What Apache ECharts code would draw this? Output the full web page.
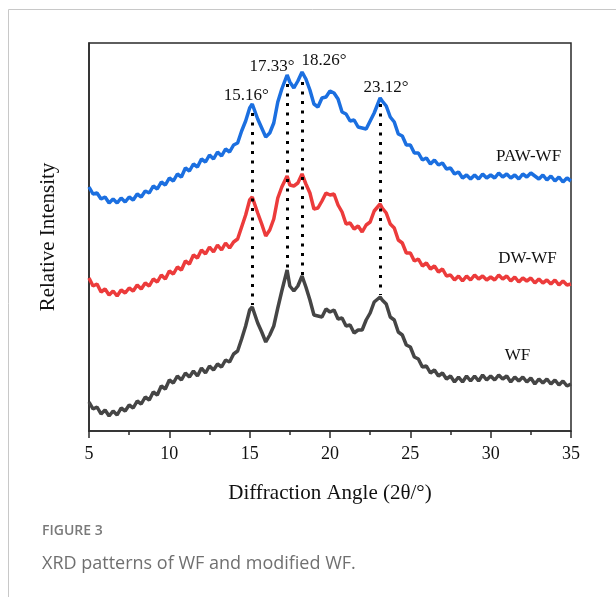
<!DOCTYPE html>
<html>
<head>
<meta charset="utf-8">
<script src="https://cdn.jsdelivr.net/npm/echarts@6/dist/echarts.min.js"></script>
<style>
html,body{margin:0;padding:0;background:#fff;}
#chart{width:616px;height:597px;}
</style>
</head>
<body>
<div id="chart"></div>
<script>
// Diffraction angle (2θ, degrees) shared by all three patterns
const angles = [
  5.00,5.25,5.50,5.75,6.00,6.25,6.50,6.75,7.00,7.25,
  7.50,7.75,8.00,8.25,8.50,8.75,9.00,9.25,9.50,9.75,
  10.00,10.25,10.50,10.75,11.00,11.25,11.50,11.75,12.00,12.25,
  12.50,12.75,13.00,13.25,13.50,13.75,14.00,14.25,14.50,14.75,
  15.00,15.16,15.50,15.75,16.00,16.25,16.50,16.75,17.00,17.33,
  17.50,17.75,18.00,18.26,18.50,18.75,19.00,19.25,19.50,19.75,
  20.00,20.25,20.50,20.75,21.00,21.25,21.50,21.75,22.00,22.25,
  22.50,22.75,23.12,23.25,23.50,23.75,24.00,24.25,24.50,24.75,
  25.00,25.25,25.50,25.75,26.00,26.25,26.50,26.75,27.00,27.25,
  27.50,27.75,28.00,28.25,28.50,28.75,29.00,29.25,29.50,29.75,
  30.00,30.25,30.50,30.75,31.00,31.25,31.50,31.75,32.00,32.25,
  32.50,32.75,33.00,33.25,33.50,33.75,34.00,34.25,34.50,34.75,
  35.00
];

// Relative intensity (a.u., stacked offsets as plotted)
const pawWF = [
  244,237,238,232,234,228,232,228,233,229,
  234,231,237,234,240,238,245,242,249,246,
  253,250,257,254,263,260,267,264,272,269,
  276,272,279,275,282,279,286,288,300,310,
  323,327,312,303,294,298,308,329,342,356,
  349,343,350,359,352,341,327,324,333,334,
  340,338,332,319,317,310,311,304,303,302,
  310,318,333,330,325,314,309,297,295,286,
  286,278,278,271,273,267,271,266,268,262,
  263,257,259,253,256,252,256,252,257,253,
  256,253,258,254,257,253,256,252,257,254,
  258,255,252,256,251,255,250,254,249,253,
  250
];
const dwWF = [
  153,145,147,139,142,136,140,135,141,138,
  143,140,146,142,148,145,152,149,156,152,
  160,157,164,161,170,167,176,173,181,177,
  184,179,186,181,188,183,189,192,204,216,
  231,234,218,207,195,201,212,233,244,255,
  246,245,248,257,247,238,222,223,230,238,
  236,237,226,219,207,208,202,205,199,206,
  209,220,227,223,218,207,203,191,188,178,
  178,170,172,165,168,162,165,159,162,155,
  156,151,155,150,155,151,156,152,155,151,
  154,151,156,152,155,150,154,149,153,150,
  153,148,152,148,151,147,151,146,150,146,
  147
];
const wf = [
  29,22,24,17,21,15,20,16,23,20,
  26,23,30,27,34,31,39,36,45,42,
  51,48,55,51,58,54,60,55,63,58,
  65,61,67,64,71,69,77,80,92,105,
  121,124,108,99,89,96,105,123,140,161,
  145,140,145,155,144,131,116,115,114,122,
  119,121,112,113,105,106,98,101,101,111,
  118,129,134,131,127,114,111,99,96,86,
  84,74,72,64,65,58,61,55,58,52,
  55,49,54,49,55,50,55,50,56,51,
  55,51,56,52,55,49,54,50,54,49,
  53,47,52,48,52,47,51,46,50,45,
  47
];

const seriesNames = ['PAW-WF', 'DW-WF', 'WF'];

// Characteristic peaks
const peakAngles = [15.16, 17.33, 18.26, 23.12];
const peakLabels = ['15.16°', '17.33°', '18.26°', '23.12°'];
const peakTopIntensity = [327, 356, 359, 333];     // PAW-WF peak heights
const guideTop = [318, 347, 349, 327];             // dotted guide: upper end
const guideBottom = [126, 159, 153, 136];          // dotted guide: lower end

const xTicks = [5, 10, 15, 20, 25, 30, 35];

const serif = "'Liberation Serif','Times New Roman',serif";
const pair = (ys) => angles.map((a, i) => [a, ys[i]]);

const chart = echarts.init(document.getElementById('chart'), null, {renderer: 'canvas'});

const peakOffsets = [[-6, -8], [-15, -8], [22, -11], [6, -10]];

const option = {
  animation: false,
  backgroundColor: '#ffffff',
  grid: {
    left: 89, right: 45, top: 43, bottom: 166,
    show: true, borderColor: '#2a2a2a', borderWidth: 1.5, backgroundColor: 'transparent'
  },
  xAxis: {
    type: 'value',
    min: xTicks[0], max: xTicks[xTicks.length - 1], interval: 5,
    axisLine: {show: true, lineStyle: {color: '#2a2a2a', width: 1.5}},
    axisTick: {show: true, inside: false, length: 7, lineStyle: {color: '#2a2a2a', width: 1.5}},
    minorTick: {show: true, splitNumber: 2, length: 4, lineStyle: {color: '#2a2a2a', width: 1.5}},
    splitLine: {show: false},
    axisLabel: {color: '#111', fontFamily: serif, fontSize: 18, margin: 14},
    name: 'Diffraction Angle (2θ/°)',
    nameLocation: 'middle', nameGap: 52,
    nameTextStyle: {color: '#111', fontFamily: serif, fontSize: 21}
  },
  yAxis: {
    type: 'value', min: 0, max: 388,
    axisLine: {show: true, lineStyle: {color: '#2a2a2a', width: 1.5}},
    axisTick: {show: false},
    axisLabel: {show: false},
    splitLine: {show: false},
    name: 'Relative Intensity',
    nameLocation: 'middle', nameGap: 30, nameRotate: 90,
    nameTextStyle: {color: '#111', fontFamily: serif, fontSize: 21}
  },
  series: [
    {
      name: seriesNames[0], type: 'line', showSymbol: false, symbol: 'none',
      data: pair(pawWF), z: 3,
      lineStyle: {color: '#1b6fe0', width: 3.5},
      markPoint: {
        symbol: 'circle', symbolSize: 0, silent: true,
        data: peakAngles.map((p, i) => ({
          coord: [p, peakTopIntensity[i]],
          label: {show: true, formatter: peakLabels[i], offset: peakOffsets[i],
                  color: '#111', fontFamily: serif, fontSize: 17}
        })).concat([{
          coord: [32.36, 274],
          label: {show: true, formatter: seriesNames[0], color: '#111', fontFamily: serif, fontSize: 17}
        }])
      }
    },
    {
      name: seriesNames[1], type: 'line', showSymbol: false, symbol: 'none',
      data: pair(dwWF), z: 3,
      lineStyle: {color: '#ec3b3b', width: 3.5},
      markPoint: {
        symbol: 'circle', symbolSize: 0, silent: true,
        data: [{
          coord: [32.29, 172],
          label: {show: true, formatter: seriesNames[1], color: '#111', fontFamily: serif, fontSize: 17}
        }]
      }
    },
    {
      name: seriesNames[2], type: 'line', showSymbol: false, symbol: 'none',
      data: pair(wf), z: 3,
      lineStyle: {color: '#454545', width: 3.5},
      markPoint: {
        symbol: 'circle', symbolSize: 0, silent: true,
        data: [{
          coord: [31.67, 75],
          label: {show: true, formatter: seriesNames[2], color: '#111', fontFamily: serif, fontSize: 17}
        }]
      },
      markLine: {
        silent: true, symbol: 'none', z: 5,
        label: {show: false},
        lineStyle: {color: '#000', width: 3, type: [3, 6.5]},
        data: peakAngles.map((p, i) => [
          {coord: [p, guideTop[i]]},
          {coord: [p, guideBottom[i]]}
        ])
      }
    }
  ],
  graphic: [
    {type: 'line', shape: {x1: 8.5, y1: 9.5, x2: 616, y2: 9.5}, style: {stroke: '#c8c8c8', lineWidth: 1}},
    {type: 'line', shape: {x1: 8.5, y1: 9.5, x2: 8.5, y2: 597}, style: {stroke: '#c8c8c8', lineWidth: 1}},
    {type: 'text', left: 42, top: 524,
     style: {text: 'FIGURE 3', fill: '#7a7a7a', font: "600 14px 'Open Sans', 'Noto Sans', sans-serif"}},
    {type: 'text', left: 42, top: 555,
     style: {text: 'XRD patterns of WF and modified WF.', fill: '#707070', font: "18px 'Open Sans', 'Noto Sans', sans-serif"}}
  ]
};

chart.setOption(option);
</script>
</body>
</html>
